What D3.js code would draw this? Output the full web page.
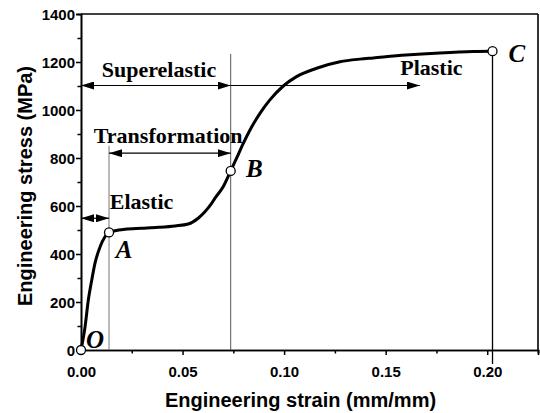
<!DOCTYPE html>
<html>
<head>
<meta charset="utf-8">
<script src="https://cdn.jsdelivr.net/npm/d3@7"></script>
<style>
  body { margin: 0; background: #fff; }
  .tick text { font-family: "Liberation Sans", Arial, sans-serif; font-weight: bold; font-size: 15px; fill: #000; }
  .axisTitle { font-family: "Liberation Sans", Arial, sans-serif; font-weight: bold; font-size: 20px; fill: #000; }
  .stage { font-family: "Liberation Serif", "Times New Roman", serif; font-weight: bold; font-size: 22px; fill: #000; }
  .point { font-family: "Liberation Serif", "Times New Roman", serif; font-weight: bold; font-style: italic; font-size: 25px; fill: #000; }
</style>
</head>
<body>
<div id="chart"></div>
<script>
// stress-strain curve
var strain = [0, 0.002, 0.0036, 0.0053, 0.0069, 0.0094, 0.0118, 0.0138, 0.0217, 0.0299, 0.038,
  0.0463, 0.0528, 0.0577, 0.061, 0.0643, 0.0659, 0.070, 0.0737, 0.0766, 0.0799, 0.0832, 0.0881,
  0.093, 0.0996, 0.1061, 0.116, 0.1275, 0.1373, 0.1439, 0.160, 0.1767, 0.193, 0.2026];
var stress = [0, 97, 208, 292, 362, 430, 472, 490, 503, 507, 511,
  517, 525, 549, 576, 611, 632, 680, 746, 799, 861, 917, 986,
  1042, 1100, 1139, 1174, 1201, 1212, 1217, 1229, 1238, 1244, 1245];

// marked points O, A, B, C
var pointNames = ["O", "A", "B", "C"];
var pointStrain = [0, 0.0138, 0.0737, 0.2026];
var pointStress = [0, 490, 746, 1245];

var xTicks = [0, 0.05, 0.10, 0.15, 0.20];
var xMinor = [0.025, 0.075, 0.125, 0.175, 0.225];
var yTicks = [0, 200, 400, 600, 800, 1000, 1200, 1400];
var yMinor = [100, 300, 500, 700, 900, 1100, 1300];

// stage arrows: [from strain, to strain, at stress, two heads?]
var arrowFrom = [0, 0.0737, 0.0138, 0];
var arrowTo = [0.0737, 0.1668, 0.0737, 0.0138];
var arrowAt = [1102, 1102, 820, 549];
var arrowBoth = [true, false, true, true];

var stageNames = ["Superelastic", "Plastic", "Transformation", "Elastic"];
var stageStrain = [0.0384, 0.1725, 0.0429, 0.0298];
var stageStress = [1139, 1146, 862, 587];

var svgWidth = 540, svgHeight = 413;
var margin = {top: 14, right: 2, bottom: 63, left: 81};
var width = svgWidth - margin.left - margin.right;
var height = svgHeight - margin.top - margin.bottom;

var svg = d3.select("#chart").append("svg")
  .attr("width", svgWidth)
  .attr("height", svgHeight);

var defs = svg.append("defs");
defs.append("marker").attr("id", "head")
  .attr("markerUnits", "userSpaceOnUse")
  .attr("markerWidth", 13).attr("markerHeight", 8)
  .attr("refX", 13).attr("refY", 4)
  .attr("orient", "auto-start-reverse")
  .append("path").attr("d", "M0,0 L13,4 L0,8 Z").attr("fill", "#000");

var g = svg.append("g").attr("transform", `translate(${margin.left}, ${margin.top})`);

var x = d3.scaleLinear().domain([0, 0.225]).range([0, width]);
var y = d3.scaleLinear().domain([0, 1400]).range([height, 0]);

// axes
var xAxis = g.append("g").attr("transform", `translate(0, ${height})`)
  .call(d3.axisBottom(x).tickValues(xTicks).tickFormat(d3.format(".2f")).tickSize(5).tickPadding(11));
g.append("g").attr("transform", `translate(0, ${height})`)
  .call(d3.axisBottom(x).tickValues(xMinor).tickFormat("").tickSize(3.5));
var yAxis = g.append("g")
  .call(d3.axisLeft(y).tickValues(yTicks).tickFormat(d3.format("d")).tickSize(5).tickPadding(1));
g.append("g")
  .call(d3.axisLeft(y).tickValues(yMinor).tickFormat("").tickSize(3.5));
g.selectAll(".domain").attr("stroke", "#000").attr("stroke-width", 1.6);
g.selectAll(".tick line").attr("stroke", "#000").attr("stroke-width", 1.5);
yAxis.selectAll(".tick text").attr("dy", "0.36em");

// frame top and right
g.append("line").attr("x1", 0).attr("x2", width).attr("y1", 0).attr("y2", 0)
  .attr("stroke", "#000").attr("stroke-width", 1.6);
g.append("line").attr("x1", width).attr("x2", width).attr("y1", 0).attr("y2", height)
  .attr("stroke", "#000").attr("stroke-width", 1.6);

// guide lines at A, B, C
g.append("line").attr("x1", x(pointStrain[1])).attr("x2", x(pointStrain[1]))
  .attr("y1", y(851)).attr("y2", height).attr("stroke", "#777").attr("stroke-width", 1);
g.append("line").attr("x1", x(pointStrain[2])).attr("x2", x(pointStrain[2]))
  .attr("y1", y(1233)).attr("y2", height).attr("stroke", "#555").attr("stroke-width", 1);
g.append("line").attr("x1", x(pointStrain[3])).attr("x2", x(pointStrain[3]))
  .attr("y1", y(pointStress[3])).attr("y2", height + 14).attr("stroke", "#000").attr("stroke-width", 1.3);

// arrows
arrowFrom.forEach(function(f, i) {
  var ln = g.append("line")
    .attr("x1", x(f)).attr("x2", x(arrowTo[i]))
    .attr("y1", y(arrowAt[i])).attr("y2", y(arrowAt[i]))
    .attr("stroke", "#000").attr("stroke-width", 1.2)
    .attr("marker-end", "url(#head)");
  if (arrowBoth[i]) ln.attr("marker-start", "url(#head)");
});

// curve
var pts = strain.map((s, i) => [s, stress[i]]);
g.append("path").datum(pts)
  .attr("d", d3.line().x(d => x(d[0])).y(d => y(d[1])).curve(d3.curveMonotoneX))
  .attr("fill", "none").attr("stroke", "#000").attr("stroke-width", 3);

// stage labels
g.selectAll(".stage").data(stageNames).enter().append("text")
  .attr("class", "stage")
  .attr("x", (d, i) => x(stageStrain[i]))
  .attr("y", (d, i) => y(stageStress[i]))
  .attr("text-anchor", "middle")
  .text(d => d);

// point markers
g.selectAll(".pt").data(pointNames).enter().append("circle")
  .attr("cx", (d, i) => x(pointStrain[i]))
  .attr("cy", (d, i) => y(pointStress[i]))
  .attr("r", 4.5)
  .attr("fill", "#fff").attr("stroke", "#000").attr("stroke-width", 1.3);

var letterStrain = [0.0069, 0.0212, 0.0854, 0.2146];
var letterStress = [8, 383, 722, 1201];
g.selectAll(".point").data(pointNames).enter().append("text")
  .attr("class", "point")
  .attr("x", (d, i) => x(letterStrain[i]))
  .attr("y", (d, i) => y(letterStress[i]))
  .attr("text-anchor", "middle")
  .text(d => d);

// axis titles
g.append("text").attr("class", "axisTitle")
  .attr("x", 300.5 - margin.left).attr("y", 407 - margin.top)
  .attr("text-anchor", "middle")
  .text("Engineering strain (mm/mm)");
g.append("text").attr("class", "axisTitle")
  .attr("transform", `translate(${31.5 - margin.left}, ${186 - margin.top}) rotate(-90)`)
  .attr("text-anchor", "middle")
  .text("Engineering stress (MPa)");
</script>
</body>
</html>
